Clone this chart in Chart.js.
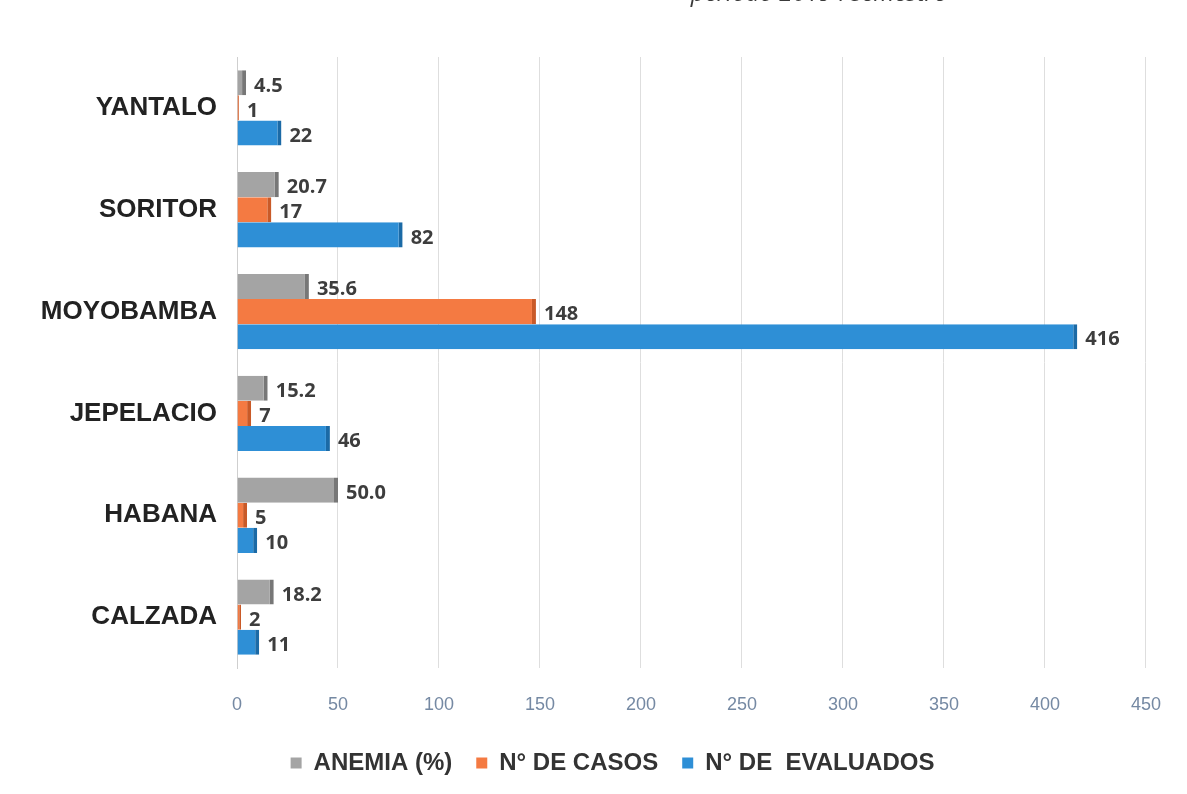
<!DOCTYPE html>
<html lang="es">
<head>
  <meta charset="UTF-8" />
  <title>Anemia por distrito</title>
  <script src="https://cdn.jsdelivr.net/npm/chart.js"></script>
  <style>
    html, body { margin: 0; padding: 0; background: #fff; }
    .wrap { position: relative; width: 1187px; height: 794px; }
  </style>
</head>
<body>
  <div class="wrap">
    <canvas id="grafico" width="1187" height="794"></canvas>
  </div>

  <script>
    const distritos = ['YANTALO', 'SORITOR', 'MOYOBAMBA', 'JEPELACIO', 'HABANA', 'CALZADA'];
    const anemia = [4.5, 20.7, 35.6, 15.2, 50.0, 18.2];
    const casos = [1, 17, 148, 7, 5, 2];
    const evaluados = [22, 82, 416, 46, 10, 11];
    const ticksX = [0, 50, 100, 150, 200, 250, 300, 350, 400, 450];
    const titulo = 'periodo 2019 I semestre';

    // el titulo queda casi fuera del borde superior, como en la hoja escaneada
    const tituloCortado = {
      id: 'tituloCortado',
      beforeDraw(chart) {
        const ctx = chart.ctx;
        ctx.save();
        ctx.font = 'italic 24px "Open Sans", sans-serif';
        ctx.fillStyle = '#3a3a3a';
        ctx.textAlign = 'right';
        ctx.textBaseline = 'alphabetic';
        ctx.fillText(titulo, 946, 1);
        ctx.restore();
      }
    };

    const etiquetas = {
      id: 'etiquetas',
      afterDatasetsDraw(chart) {
        const ctx = chart.ctx;
        ctx.save();
        ctx.font = 'bold 20px "Open Sans", sans-serif';
        ctx.fillStyle = '#3d3d3d';
        ctx.textAlign = 'left';
        ctx.textBaseline = 'middle';
        chart.data.datasets.forEach((ds, i) => {
          chart.getDatasetMeta(i).data.forEach((bar, j) => {
            const v = ds.data[j];
            const txt = i === 0 ? v.toFixed(1) : String(v);
            ctx.fillText(txt, bar.x + 8, bar.y + 3);
          });
        });
        ctx.restore();
      }
    };

    const borde = { top: 0, right: 4, bottom: 0, left: 0 };

    new Chart(document.getElementById('grafico'), {
      type: 'bar',
      data: {
        labels: distritos,
        datasets: [
          { label: 'ANEMIA (%)', data: anemia, backgroundColor: '#a4a4a4', borderColor: '#777', borderWidth: borde, borderSkipped: false },
          { label: 'N° DE CASOS', data: casos, backgroundColor: '#f47a42', borderColor: '#c95a28', borderWidth: borde, borderSkipped: false },
          { label: 'N° DE  EVALUADOS', data: evaluados, backgroundColor: '#2e8fd6', borderColor: '#1b6aa6', borderWidth: borde, borderSkipped: false }
        ]
      },
      options: {
        indexAxis: 'y',
        responsive: false,
        animation: false,
        layout: { padding: { top: 57, left: 38, right: 0, bottom: 9 } },
        datasets: { bar: { categoryPercentage: 0.74, barPercentage: 1 } },
        scales: {
          x: {
            min: 0,
            max: 450,
            afterBuildTicks: s => { s.ticks = ticksX.map(v => ({ value: v })); },
            afterFit: s => { s.height = 59; },
            border: { display: false },
            grid: { color: '#dedede', drawTicks: false },
            ticks: {
              padding: 26,
              color: '#7589a3',
              font: { family: '"Liberation Sans", Arial, sans-serif', size: 18 }
            }
          },
          y: {
            afterFit: s => { s.width = 199; },
            border: { display: true, color: '#cfcfcf' },
            grid: { display: false, drawTicks: false },
            ticks: {
              padding: 20,
              color: '#222',
              font: { family: '"Liberation Sans", Arial, sans-serif', size: 26, weight: 'bold' }
            }
          },
          // margen derecho vacio, para que la leyenda quede centrada como en el original
          margen: {
            type: 'linear',
            position: 'right',
            afterFit: s => { s.width = 12; },
            border: { display: false },
            grid: { display: false, drawTicks: false },
            ticks: { display: false }
          }
        },
        plugins: {
          legend: {
            position: 'bottom',
            labels: {
              boxWidth: 11,
              boxHeight: 11,
              padding: 24,
              color: '#333',
              font: { family: '"Liberation Sans", Arial, sans-serif', size: 24, weight: 'bold' },
              generateLabels: chart => Chart.defaults.plugins.legend.labels.generateLabels(chart)
                .map(l => ({ ...l, lineWidth: 0 }))
            }
          },
          tooltip: { enabled: false }
        }
      },
      plugins: [tituloCortado, etiquetas]
    });
  </script>
</body>
</html>
